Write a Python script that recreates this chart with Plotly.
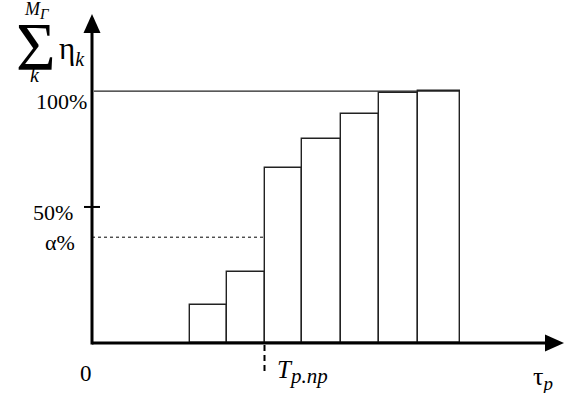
import plotly.graph_objects as go

# ---- data (schematic units) ----
bin_edges = [2.6, 3.6, 4.6, 5.6, 6.65, 7.65, 8.7, 9.8]   # time bins (tau_p)
cum_share = [15, 28, 69.5, 81, 91, 99.4, 100]              # cumulative sum of eta_k, %
alpha_level = 42            # alpha %
tick_50_value = 54          # position of the "50%" tick (schematic)
t_pnp = 4.6                 # T_p.np
x_max = 12.56
y_max = 130.6

W, H = 565, 393
L, R, T, B = 92, 2, 14, 50
PW, PH = W - L - R, H - T - B

def px(X):
    return (X - L) / PW

def py(Y):
    return (H - B - Y) / PH

def dx2px(v):
    return L + v / x_max * PW

def dy2py(v):
    return H - B - v / y_max * PH

centers = [(a + b) / 2 for a, b in zip(bin_edges[:-1], bin_edges[1:])]
widths = [b - a for a, b in zip(bin_edges[:-1], bin_edges[1:])]

fig = go.Figure()
fig.add_trace(go.Bar(
    x=centers, y=cum_share, width=widths,
    marker=dict(color="white", line=dict(color="#222222", width=1.4)),
    hoverinfo="skip", showlegend=False,
))

serif = "Liberation Serif"
shapes = []
# 100% line
shapes.append(dict(type="line", xref="x", yref="y", x0=0.05, x1=bin_edges[-1],
                   y0=100, y1=100, line=dict(color="#222222", width=1.4)))
# alpha dotted line
shapes.append(dict(type="line", xref="x", yref="y", x0=0, x1=t_pnp,
                   y0=alpha_level, y1=alpha_level, line=dict(color="black", width=1, dash="dot")))
# axes
shapes.append(dict(type="line", xref="paper", yref="paper", x0=px(92), x1=px(548),
                   y0=0, y1=0, line=dict(color="black", width=3)))
shapes.append(dict(type="line", xref="paper", yref="paper", x0=px(92), x1=px(92),
                   y0=py(344.5), y1=py(30), line=dict(color="black", width=3)))
# arrowheads
def path(points):
    return "M " + " L ".join(f"{px(a)},{py(b)}" for a, b in points) + " Z"
shapes.append(dict(type="path", xref="paper", yref="paper",
                   path=path([(92, 14), (83.5, 33), (100.5, 33)]),
                   fillcolor="black", line=dict(color="black", width=0)))
shapes.append(dict(type="path", xref="paper", yref="paper",
                   path=path([(564, 343), (545, 334.5), (545, 351.5)]),
                   fillcolor="black", line=dict(color="black", width=0)))
# 50% tick
y50 = dy2py(tick_50_value)
shapes.append(dict(type="line", xref="paper", yref="paper", x0=px(84), x1=px(100),
                   y0=py(y50), y1=py(y50), line=dict(color="black", width=2)))
# T_p.np dashed tick
xt = dx2px(t_pnp)
shapes.append(dict(type="line", xref="paper", yref="paper", x0=px(xt), x1=px(xt),
                   y0=py(345), y1=py(373), line=dict(color="black", width=2, dash="6px,4px")))

def ann(text, X, Y, size, xa="center", ya="middle"):
    return dict(text=text, x=px(X), y=py(Y), xref="paper", yref="paper",
                xanchor=xa, yanchor=ya, showarrow=False,
                font=dict(family=serif, size=size, color="black"))

annotations = [
    ann("100%", 89, dy2py(100) + 10, 22, xa="right"),
    ann("50%", 75, y50 + 6, 22, xa="right"),
    ann("α%", 77, dy2py(alpha_level) + 5, 22, xa="right"),
    ann("0", 86, 373, 23),
    ann("<i>T</i><sub><i><span style='font-size:21px'>p.np</span></i></sub>", xt + 10, 372, 25, xa="left"),
    ann("τ<sub><i><span style='font-size:19px'>p</span></i></sub>", 531, 378, 26, xa="left"),
    ann("Σ", 36, 46, 68),
    ann("<i>M</i><sub><i><span style='font-size:15px'>Γ</span></i></sub>", 37, 11, 18),
    ann("<i>k</i>", 35, 75, 20),
    ann("η<sub><i><span style='font-size:20px'>k</span></i></sub>", 57, 50, 31, xa="left"),
]

fig.update_layout(
    width=W, height=H,
    margin=dict(l=L, r=R, t=T, b=B),
    paper_bgcolor="white", plot_bgcolor="white",
    bargap=0,
    xaxis=dict(range=[0, x_max], visible=False, fixedrange=True),
    yaxis=dict(range=[0, y_max], visible=False, fixedrange=True),
    shapes=shapes, annotations=annotations,
    showlegend=False,
)

fig.write_html("out.html", config={"displayModeBar": False},
               post_script="document.body.style.margin='0';document.body.style.overflow='hidden';")
